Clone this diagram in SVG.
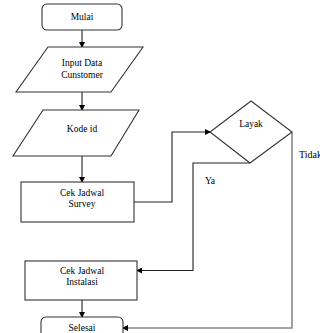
<svg xmlns="http://www.w3.org/2000/svg" width="320" height="333" viewBox="0 0 320 333">
<style>
.s{fill:#fff;stroke:#333;stroke-width:1.1}
.t{font-family:"Liberation Serif",serif;font-size:9.5px;fill:#000;text-anchor:middle}
.c{fill:none;stroke:#222;stroke-width:1.1}
.g{fill:none;stroke:#888;stroke-width:1.6}
</style>
<defs>
<marker id="a" markerWidth="6" markerHeight="6" refX="5" refY="3" orient="auto" markerUnits="userSpaceOnUse">
<path d="M0,0 L6,3 L0,6 z" fill="#000"/>
</marker>
</defs>
<rect width="320" height="333" fill="#fff"/>
<g id="connectors">
<line class="c" x1="82" y1="30" x2="82" y2="47" marker-end="url(#a)"/>
<line class="c" x1="82" y1="92" x2="82" y2="110" marker-end="url(#a)"/>
<line class="c" x1="82" y1="156" x2="82" y2="182" marker-end="url(#a)"/>
<polyline class="c" points="134,202 172,202 172,132 210,132" marker-end="url(#a)"/>
<polyline class="c" points="250,163 193,163 193,270.5 137,270.5" marker-end="url(#a)"/>
<polyline class="g" points="292,132 292,328 123,328" marker-end="url(#a)"/>
<line class="c" x1="82" y1="300" x2="82" y2="317" marker-end="url(#a)"/>
<text class="t" x="299" y="158" style="text-anchor:start;font-size:10px">Tidak</text>
<text class="t" x="210" y="184">Ya</text>
</g>
<g id="mulai">
<rect class="s" x="42" y="4" width="80" height="26" rx="5"/>
<text class="t" x="82" y="20">Mulai</text>
</g>
<g id="input">
<polygon class="s" points="48,47 143,47 111,92 16,92"/>
<text class="t" x="82" y="66">Input Data</text>
<text class="t" x="82" y="78">Cunstomer</text>
</g>
<g id="kode">
<polygon class="s" points="43,110 139,110 111,156 13,156"/>
<text class="t" x="82" y="132">Kode id</text>
</g>
<g id="survey">
<rect class="s" x="21" y="182" width="113" height="40"/>
<text class="t" x="82" y="196">Cek Jadwal</text>
<text class="t" x="82" y="207">Survey</text>
</g>
<g id="layak">
<polygon class="s" points="251,101 292,132 250,163 210,132"/>
<text class="t" x="251" y="127">Layak</text>
</g>
<g id="instalasi">
<rect class="s" x="25" y="261" width="112" height="39"/>
<text class="t" x="82" y="274">Cek Jadwal</text>
<text class="t" x="82" y="285">Instalasi</text>
</g>
<g id="selesai">
<rect class="s" x="41" y="317" width="82" height="26" rx="5"/>
<text class="t" x="82" y="331">Selesai</text>
</g>
</svg>
